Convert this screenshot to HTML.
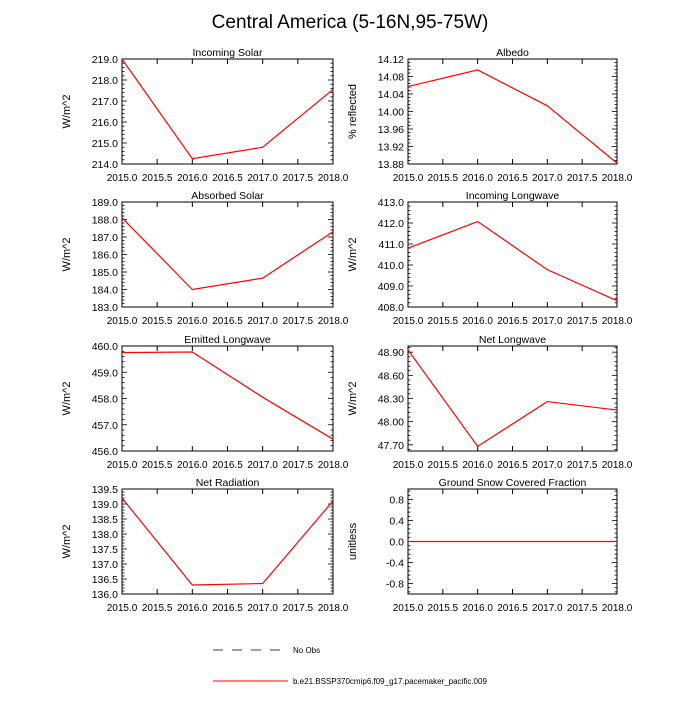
<!DOCTYPE html>
<html><head><meta charset="utf-8"><style>
body{margin:0;background:#fff}
svg text{font-family:"Liberation Sans",sans-serif;fill:#000}
</style></head><body>
<svg id="c" width="700" height="700" xmlns="http://www.w3.org/2000/svg">
<text x="350" y="28" font-size="19" text-anchor="middle">Central America (5-16N,95-75W)</text>
<g id="panels"></g>
<g>
<line x1="213" y1="650" x2="288" y2="650" stroke="#000" stroke-width="0.8" stroke-dasharray="10,9"/>
<text x="293" y="653" font-size="8">No Obs</text>
<line x1="213" y1="681" x2="288" y2="681" stroke="#f00" stroke-width="1"/>
<text x="293" y="684" font-size="8">b.e21.BSSP370cmip6.f09_g17.pacemaker_pacific.009</text>
</g>
</svg>
<script>
const years=[2015,2016,2017,2018];
const xTicks=[2015,2015.5,2016,2016.5,2017,2017.5,2018];
const titles=["Incoming Solar","Albedo","Absorbed Solar","Incoming Longwave","Emitted Longwave","Net Longwave","Net Radiation","Ground Snow Covered Fraction"];
const units=["W/m^2","% reflected","W/m^2","W/m^2","W/m^2","W/m^2","W/m^2","unitless"];
const vIncSolar=[219.0,214.25,214.8,217.55];
const vAlbedo=[14.057,14.095,14.013,13.882];
const vAbsSolar=[188.1,184.0,184.65,187.3];
const vIncLW=[410.8,412.07,409.78,408.3];
const vEmitLW=[459.75,459.77,458.05,456.45];
const vNetLW=[48.93,47.68,48.26,48.15];
const vNetRad=[139.2,136.3,136.35,139.1];
const vSnow=[0,0,0,0];
const series=[vIncSolar,vAlbedo,vAbsSolar,vIncLW,vEmitLW,vNetLW,vNetRad,vSnow];
const yRanges=[[214,219],[13.88,14.12],[183,189],[408,413],[456,460],[47.62,48.98],[136,139.5],[-1,1]];
const yTickStart=[214,13.88,183,408,456,47.70,136,-0.8];
const yTickStep=[1,0.04,1,1,1,0.3,0.5,0.4];
const yDec=[1,2,1,1,1,2,1,1];
const NS="http://www.w3.org/2000/svg";
const g=document.getElementById('panels');
function mk(t,a,p){const e=document.createElementNS(NS,t);for(const k in a)e.setAttribute(k,a[k]);(p||g).appendChild(e);return e;}
const lefts=[122,408],tops=[59,202,346,489],W=[211,209],H=105;
for(let i=0;i<8;i++){
 const col=i%2,row=Math.floor(i/2);
 const L=lefts[col],T=tops[row],w=W[col],B=T+H,R=L+w;
 const [y0,y1]=yRanges[i];
 const xs=v=>L+(v-2015)/3*w, ys=v=>B-(v-y0)/(y1-y0)*H;
 const pg=mk('g',{});
 
 
 const tt=mk('text',{x:(L+R)/2,y:T-3,'font-size':10.5,'text-anchor':'middle'},pg);tt.textContent=titles[i];
 
 
 const fr=mk('rect',{x:L,y:T,width:w,height:H,fill:'none',stroke:'#000','stroke-width':1},pg);
 
 
 xTicks.forEach(v=>{const x=xs(v);
  mk('line',{x1:x,y1:B,x2:x,y2:B-5,stroke:'#000'},pg);mk('line',{x1:x,y1:T,x2:x,y2:T+5,stroke:'#000'},pg);
  const t=mk('text',{x:x,y:B+17,'font-size':10,'text-anchor':'middle'},pg);t.textContent=v.toFixed(1);
  
  });
 const st=yTickStep[i];
 for(let k=-10;k<=40;k++){const v=yTickStart[i]+k*st/5; if(v<y0-1e-9||v>y1+1e-9)continue;const y=ys(v);
  const major=k%5===0;const len=major?5:2.5;
  mk('line',{x1:L,y1:y,x2:L+len,y2:y,stroke:'#000','stroke-width':0.8},pg);mk('line',{x1:R,y1:y,x2:R-len,y2:y,stroke:'#000','stroke-width':0.8},pg);
  if(major){const t=mk('text',{x:L-4,y:y+4,'font-size':10.5,'text-anchor':'end'},pg);t.textContent=v.toFixed(yDec[i]);
   
   }}
 const ut=mk('text',{x:0,y:0,'font-size':11,'text-anchor':'middle',transform:`translate(${L-52},${(T+B)/2}) rotate(-90)`},pg);ut.textContent=units[i];
 
 
 const pl=mk('polyline',{points:years.map((yr,j)=>xs(yr)+','+ys(series[i][j])).join(' '),fill:'none',stroke:'#f00','stroke-width':1.2},pg);
 
 
}
</script>
</body></html>
